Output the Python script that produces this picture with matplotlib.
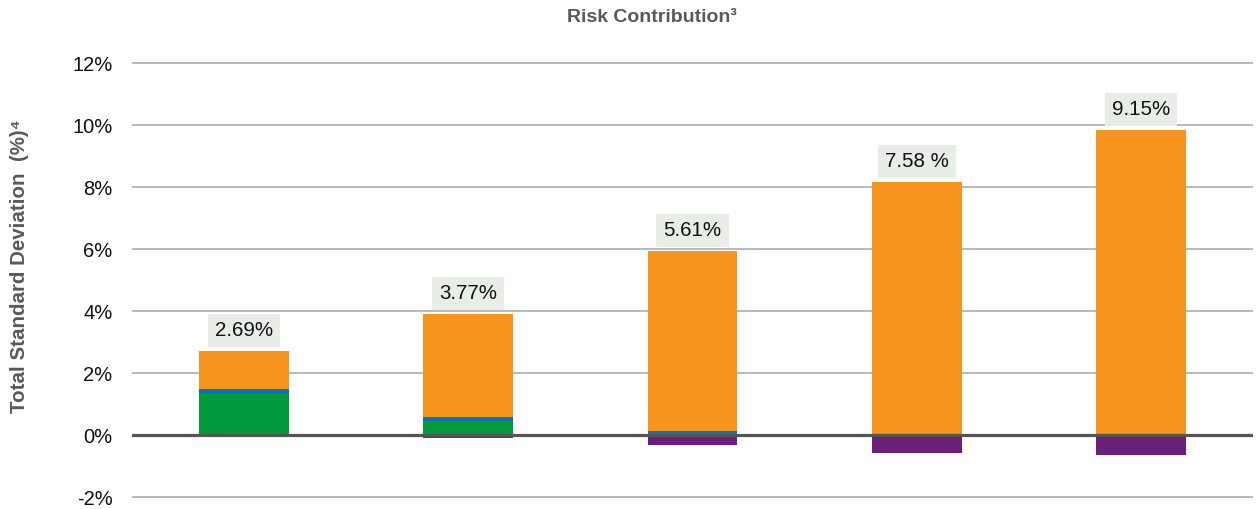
import matplotlib
matplotlib.use("Agg")
import matplotlib.pyplot as plt
import numpy as np

plt.rcParams['font.family'] = ['Liberation Sans', 'DejaVu Sans']

categories = ["A", "B", "C", "D", "E"]
green = [1.35, 0.44, 0.06, 0.03, 0.00]
blue = [0.13, 0.15, 0.08, 0.00, 0.00]
orange = [1.23, 3.31, 5.80, 8.13, 9.84]
purple = [0.00, -0.11, -0.31, -0.57, -0.66]
totals = ["2.69%", "3.77%", "5.61%", "7.58 %", "9.15%"]
yticks = [-2, 0, 2, 4, 6, 8, 10, 12]

W, H = 1259, 509
fig = plt.figure(figsize=(W / 100, H / 100), dpi=100)
ax = fig.add_axes([132 / W, 1 - 498.55 / H, (1253 - 132) / W, (498.55 - 61.45) / H])

x = np.arange(len(categories))
g = np.array(green); b = np.array(blue); o = np.array(orange); p = np.array(purple)
bw = 0.4
ax.bar(x, g, width=bw, color="#009A3D", zorder=2)
ax.bar(x, b, width=bw, bottom=g, color="#0A72BA", zorder=2)
ax.bar(x, o, width=bw, bottom=g + b, color="#F7941D", zorder=2)
ax.bar(x, p, width=bw, color="#6A1F7A", zorder=2)

tops = g + b + o
for xi, t, lab in zip(x, tops, totals):
    ax.annotate(lab, (xi, t), xytext=(0, 15), textcoords="offset points",
                ha="center", va="center", fontsize=14.8, color="#111111",
                bbox=dict(boxstyle="square,pad=0.34", fc="#E8EDE8", ec="none"),
                zorder=4)

ax.set_xlim(-0.5, 4.5)
ax.set_ylim(-2.05, 12.05)
ax.set_yticks(yticks)
ax.set_yticklabels([f"{v}%" for v in yticks])
ax.set_xticks([])
ax.tick_params(axis="y", length=0, pad=14, labelsize=14.5, labelcolor="#111111")
for s in ax.spines.values():
    s.set_visible(False)
ax.yaxis.grid(True, color="#A6A6A6", linewidth=1.1, zorder=0)
ax.set_axisbelow(True)
ax.axhline(0, color="#555555", linewidth=2.3, zorder=3)

fig.text(652 / W, 1 - 17 / H, "Risk Contribution³", ha="center", va="center",
         fontsize=14, fontweight="bold", color="#595959")
fig.text(20 / W, 1 - 266 / H, "Total Standard Deviation  (%)⁴", ha="center", va="center",
         rotation=90, fontsize=14.8, fontweight="bold", color="#595959")

fig.savefig("out.png", dpi=100)
